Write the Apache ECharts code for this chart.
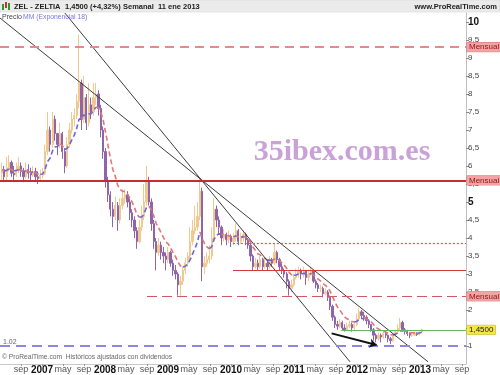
<!DOCTYPE html>
<html><head><meta charset="utf-8">
<script src="https://cdn.jsdelivr.net/npm/echarts@6/dist/echarts.min.js"></script>
<style>html,body{margin:0;padding:0;background:#fff}#c{width:500px;height:375px}</style>
</head><body><div id="c"></div>
<script>
// ---- data (bi-weekly bars, ZEL - ZELTIA) ----
const startDate = '2006-05-12';
const stepDays = 14;
const firstOpen = 5.8;
const closes = [
 5.9,5.7,5.95,6.1,5.8,5.75,5.9,6.0,5.85,5.7,
 5.9,5.8,5.75,5.85,5.7,5.65,5.75,5.8,6.4,7.0,
 6.6,7.3,6.9,6.6,6.9,6.4,6.0,6.6,7.0,7.3,
 7.4,7.8,8.3,7.3,7.9,7.2,7.7,7.5,7.9,8.0,
 7.6,7.0,6.4,5.6,5.2,4.8,4.6,4.9,4.5,4.9,
 5.1,5.2,5.0,4.7,4.5,4.2,3.9,4.3,4.6,5.0,
 5.6,5.0,4.4,3.9,3.6,3.8,3.6,3.5,3.4,3.6,
 3.3,3.1,3.0,2.7,2.8,3.1,3.3,3.5,3.9,4.2,
 4.3,4.6,5.3,3.2,3.3,3.4,3.5,4.0,4.8,4.5,
 4.3,4.0,4.1,3.95,4.05,3.9,4.0,4.2,3.9,4.0,
 4.1,3.95,3.8,3.5,3.2,3.3,3.2,3.4,3.2,3.3,
 3.2,3.4,3.3,3.6,3.4,3.2,3.1,3.0,2.8,2.6,
 2.7,2.9,3.0,3.1,3.0,3.1,2.9,3.0,3.1,2.8,
 2.7,2.6,2.6,2.45,2.5,2.35,2.1,1.8,1.6,1.55,
 1.65,1.5,1.45,1.55,1.6,1.5,1.6,1.75,1.95,1.85,
 1.8,1.7,1.6,1.45,1.3,1.2,1.3,1.25,1.35,1.3,
 1.2,1.15,1.3,1.4,1.5,1.65,1.45,1.4,1.35,1.3,
 1.3,1.35,1.32,1.39,1.45
];
const highs = [
 6.1,6.0,6.25,6.3,6.15,6.0,6.1,6.25,6.1,5.95,
 6.1,6.05,5.95,6.0,5.95,5.85,5.9,5.95,6.6,7.5,
 7.1,7.5,7.4,6.9,7.2,6.95,6.5,6.8,7.2,7.5,
 7.6,8.0,9.65,8.4,8.5,8.0,8.3,7.9,8.3,8.3,
 8.1,7.7,7.1,6.5,5.7,5.3,5.0,5.15,5.0,5.1,
 5.35,5.35,5.3,5.1,4.8,4.6,4.3,4.5,4.9,5.5,
 6.0,5.7,5.1,4.5,4.0,4.0,3.9,3.75,3.6,3.75,
 3.65,3.4,3.25,3.05,2.95,3.2,3.45,3.6,4.3,4.5,
 4.9,5.0,5.65,5.4,3.5,3.6,3.8,4.3,5.1,4.9,
 4.6,4.35,4.25,4.15,4.2,4.1,4.15,4.4,4.25,4.15,
 4.2,4.15,4.0,3.85,3.55,3.45,3.4,3.5,3.45,3.4,
 3.35,3.5,3.45,3.85,3.65,3.45,3.3,3.15,3.05,2.85,
 2.85,3.0,3.15,3.2,3.15,3.2,3.1,3.1,3.2,3.1,
 2.85,2.75,2.7,2.65,2.6,2.55,2.4,2.15,1.85,1.7,
 1.75,1.7,1.6,1.65,1.7,1.65,1.7,1.9,2.05,2.0,
 1.95,1.85,1.75,1.6,1.5,1.35,1.38,1.35,1.4,1.4,
 1.32,1.25,1.35,1.45,1.6,1.78,1.7,1.5,1.45,1.38,
 1.36,1.4,1.38,1.42,1.48
];
const lows = [
 5.6,5.55,5.6,5.85,5.7,5.55,5.7,5.8,5.7,5.55,
 5.65,5.65,5.6,5.7,5.55,5.5,5.6,5.65,5.75,6.3,
 6.4,6.5,6.7,6.3,6.5,6.2,5.8,5.95,6.5,6.9,
 7.1,7.3,7.6,7.0,7.2,7.0,7.1,7.3,7.4,7.7,
 7.4,6.8,6.2,5.4,5.0,4.6,4.3,4.5,4.2,4.4,
 4.8,4.95,4.85,4.5,4.3,4.0,3.7,3.85,4.2,4.5,
 4.9,4.9,4.2,3.7,3.1,3.5,3.4,3.3,3.1,3.3,
 3.2,2.95,2.85,2.4,2.35,2.7,3.0,3.2,3.4,3.8,
 4.1,4.2,4.5,2.8,3.0,3.2,3.3,3.4,3.9,4.3,
 4.1,3.8,3.9,3.8,3.85,3.75,3.8,3.9,3.8,3.85,
 3.9,3.8,3.7,3.35,3.1,3.15,3.1,3.15,3.1,3.15,
 3.1,3.15,3.2,3.25,3.3,3.1,3.0,2.9,2.6,2.4,
 2.5,2.65,2.85,2.9,2.85,2.9,2.7,2.8,2.95,2.75,
 2.6,2.5,2.5,2.35,2.4,2.25,2.0,1.7,1.5,1.45,
 1.5,1.42,1.4,1.42,1.5,1.4,1.45,1.55,1.7,1.75,
 1.7,1.6,1.5,1.4,1.15,1.1,1.15,1.1,1.2,1.22,
 1.1,1.05,1.12,1.25,1.35,1.45,1.4,1.32,1.28,1.22,
 1.25,1.28,1.28,1.3,1.36
];
const emaPeriod = 9; // 18 weeks on bi-weekly bars
// horizontal levels
const levelPrices = [9.3, 5.6, 3.85, 3.1, 2.38, 1.45, 1.02];
const levelFrom = ['2006-05-01','2006-05-01','2010-01-12','2010-01-12','2008-09-01','2011-10-01','2006-05-01'];
const levelTags = ['Mensual','Mensual','','','Mensual','1,4500',''];
// trend lines and arrow [date, price]
const trendA = [['2006-05-01', 10.11], ['2013-02-16', 0.56]];
const trendB = [['2007-05-12', 10.25], ['2011-11-21', 0.56]];
const arrowPts = [['2011-08-06', 1.35], ['2012-04-23', 1.03]];
// axes
const xMinDate = '2006-05-01';
const xMaxMonths = 164.76;
const yMin = 0.5, yMax = 10.25, yStep = 0.5;
const yBold = [5, 10];
const monthNames = {4: 'may', 8: 'sep'};

// ---- helpers ----
function toMonths(s) {
  const d = new Date(s + 'T00:00:00Z');
  const y = d.getUTCFullYear(), m = d.getUTCMonth();
  const dim = new Date(Date.UTC(y, m + 1, 0)).getUTCDate();
  return (y - 2000) * 12 + m + (d.getUTCDate() - 1) / dim;
}
const t0 = Date.parse(startDate + 'T00:00:00Z');
const dates = closes.map((_, i) => new Date(t0 + i * stepDays * 86400000).toISOString().slice(0, 10));
const xs = dates.map(toMonths);
const candles = closes.map((c, i) => {
  const o = i === 0 ? firstOpen : closes[i - 1];
  const h = Math.max(highs[i], o, c), l = Math.min(lows[i], o, c);
  return [xs[i], o, c, l, h];
});
// EMA
const ema = [];
const k = 2 / (emaPeriod + 1);
closes.forEach((c, i) => ema.push(i === 0 ? c : ema[i - 1] + k * (c - ema[i - 1])));
const emaUp = xs.map(x => [x, null]);
const emaDn = xs.map(x => [x, null]);
for (let i = 1; i < ema.length; i++) {
  const tgt = ema[i] >= ema[i - 1] ? emaUp : emaDn;
  tgt[i - 1][1] = ema[i - 1];
  tgt[i][1] = ema[i];
}

const xMin = toMonths(xMinDate);
const levelStyles = [
  {color: '#e58a8a', width: 2, type: [9, 6]},
  {color: '#c92c2c', width: 2, type: 'solid'},
  {color: '#e05050', width: 1.2, type: [2, 2]},
  {color: '#d23c3c', width: 1, type: 'solid'},
  {color: '#d25a5a', width: 1.2, type: [10, 5]},
  {color: '#62b862', width: 1, type: 'solid'},
  {color: '#8a86ee', width: 2, type: [10, 6]}
];
const tagStyles = {
  'Mensual': {backgroundColor: '#f3a3a3', borderColor: '#d26a6a', color: '#8e1414'},
  '1,4500': {backgroundColor: '#f2e64a', borderColor: '#c8b830', color: '#222'}
};
const levelLines = levelPrices.map((p, i) => {
  const item = [
    {coord: [toMonths(levelFrom[i]), p], lineStyle: levelStyles[i]},
    {coord: [xMaxMonths, p]}
  ];
  const tag = levelTags[i];
  item[0].label = tag ? Object.assign({show: true, position: 'end', formatter: tag, fontSize: 8,
    fontFamily: 'Liberation Sans, Arial, sans-serif', padding: [1, 2, 0, 2], borderWidth: 0.5, distance: 1}, tagStyles[tag])
    : {show: false};
  return item;
});

const chart = echarts.init(document.getElementById('c'), null, {renderer: 'canvas'});
const font = 'Liberation Sans, Arial, sans-serif';
chart.setOption({
  animation: false,
  backgroundColor: '#fff',
  grid: {left: 0, right: 34, top: 13, bottom: 10},
  xAxis: {
    type: 'value', min: xMin, max: xMaxMonths, interval: 4,
    splitLine: {show: false},
    axisLine: {show: true, onZero: false, lineStyle: {color: '#c8c8c8'}},
    axisTick: {show: true, length: 2, lineStyle: {color: '#999'}},
    axisLabel: {
      margin: 1, showMinLabel: false, showMaxLabel: false, fontFamily: font,
      formatter: v => {
        const m = Math.round(v) % 12;
        if (m === 0) return '{y|' + (2000 + Math.round(v) / 12) + '}';
        return '{m|' + (monthNames[m] || '') + '}';
      },
      rich: {
        y: {fontSize: 10, fontWeight: 'bold', color: '#111', fontFamily: font},
        m: {fontSize: 9, color: '#555', fontFamily: font}
      }
    }
  },
  yAxis: {
    type: 'value', position: 'right', min: yMin, max: yMax, interval: yStep,
    splitLine: {show: false},
    axisLine: {show: true, lineStyle: {color: '#c0c0c0'}},
    axisTick: {show: true, length: 3, inside: false, lineStyle: {color: '#888'}},
    axisLabel: {
      margin: 2, showMinLabel: false, showMaxLabel: false, fontFamily: font,
      formatter: v => {
        const s = String(Math.round(v * 10) / 10).replace('.', ',');
        return yBold.indexOf(v) >= 0 ? '{b|' + s + '}' : '{n|' + s + '}';
      },
      rich: {
        b: {fontSize: 10, fontWeight: 'bold', color: '#111', fontFamily: font},
        n: {fontSize: 8, color: '#444', fontFamily: font}
      }
    }
  },
  series: [
    {
      type: 'line', data: trendA.map(p => [toMonths(p[0]), p[1]]), symbol: 'none', silent: true,
      lineStyle: {color: '#3c3c3c', width: 1}, z: 4
    },
    {
      type: 'line', data: trendB.map(p => [toMonths(p[0]), p[1]]), symbol: 'none', silent: true,
      lineStyle: {color: '#3c3c3c', width: 1}, z: 4
    },
    {
      type: 'candlestick', data: candles, barWidth: 1.8,
      dimensions: ['date', 'open', 'close', 'lowest', 'highest'],
      encode: {x: 'date', y: ['open', 'close', 'lowest', 'highest']},
      itemStyle: {color: '#f1c98f', color0: '#9064aa', borderColor: '#f1c98f', borderColor0: '#9064aa', borderWidth: 1},
      z: 2
    },
    {
      type: 'line', data: emaDn, symbol: 'none', connectNulls: false, silent: true,
      lineStyle: {color: '#e27676', width: 1.6, type: [5, 3]}, z: 3,
      markLine: {silent: true, symbol: 'none', animation: false, data: levelLines, label: {show: false}}
    },
    {
      type: 'line', data: emaUp, symbol: 'none', connectNulls: false, silent: true,
      lineStyle: {color: '#6868de', width: 1.6, type: [5, 3]}, z: 3,
      markLine: {
        silent: true, symbol: ['none', 'arrow'], symbolSize: 7, animation: false,
        lineStyle: {color: '#111', width: 2, type: 'solid'}, label: {show: false},
        data: [[{coord: [toMonths(arrowPts[0][0]), arrowPts[0][1]]}, {coord: [toMonths(arrowPts[1][0]), arrowPts[1][1]]}]]
      }
    }
  ],
  graphic: [
    {type: 'rect', shape: {x: 0, y: 0, width: 500, height: 12}, style: {fill: '#ebebeb', stroke: '#d0d0d0', lineWidth: 0.5}, z: 10},
    {type: 'rect', shape: {x: 2, y: 4, width: 2, height: 6}, style: {fill: '#2a9a2a'}, z: 11},
    {type: 'rect', shape: {x: 5, y: 2, width: 2, height: 6}, style: {fill: '#d23030'}, z: 11},
    {type: 'rect', shape: {x: 8, y: 3, width: 2, height: 7}, style: {fill: '#2a9a2a'}, z: 11},
    {type: 'text', x: 14, y: 7, style: {text: 'ZEL - ZELTIA', font: 'bold 7.5px ' + font, fill: '#222', verticalAlign: 'middle'}, z: 11},
    {type: 'text', x: 65, y: 7, style: {text: '1,4500 (+4,32%)', font: 'bold 7.5px ' + font, fill: '#222', verticalAlign: 'middle'}, z: 11},
    {type: 'text', x: 123, y: 7, style: {text: 'Semanal  11 ene 2013', font: 'bold 7.5px ' + font, fill: '#222', verticalAlign: 'middle'}, z: 11},
    {type: 'text', x: 497, y: 7, style: {text: 'www.ProRealTime.com', font: 'bold 7.5px ' + font, fill: '#222', align: 'right', verticalAlign: 'middle'}, z: 11},
    {type: 'text', x: 2, y: 17, style: {text: 'Precio', font: '7px ' + font, fill: '#444', verticalAlign: 'middle'}, z: 11},
    {type: 'text', x: 23, y: 17, style: {text: 'MM (Exponencial 18)', font: '6.8px ' + font, fill: '#7a78e2', verticalAlign: 'middle'}, z: 11},
    {type: 'text', x: 342, y: 152, style: {text: '35ibex.com.es', font: 'bold 30px Liberation Serif, DejaVu Serif, serif', fill: '#c9a3d7', align: 'center', verticalAlign: 'middle'}, z: 1},
    {type: 'text', x: 3, y: 342, style: {text: '1.02', font: '7px ' + font, fill: '#666', verticalAlign: 'middle'}, z: 11},
    {type: 'text', x: 2, y: 357, style: {text: '© ProRealTime.com  Históricos ajustados con dividendos', font: '6.7px ' + font, fill: '#666', verticalAlign: 'middle'}, z: 11}
  ]
});
</script>
</body></html>
